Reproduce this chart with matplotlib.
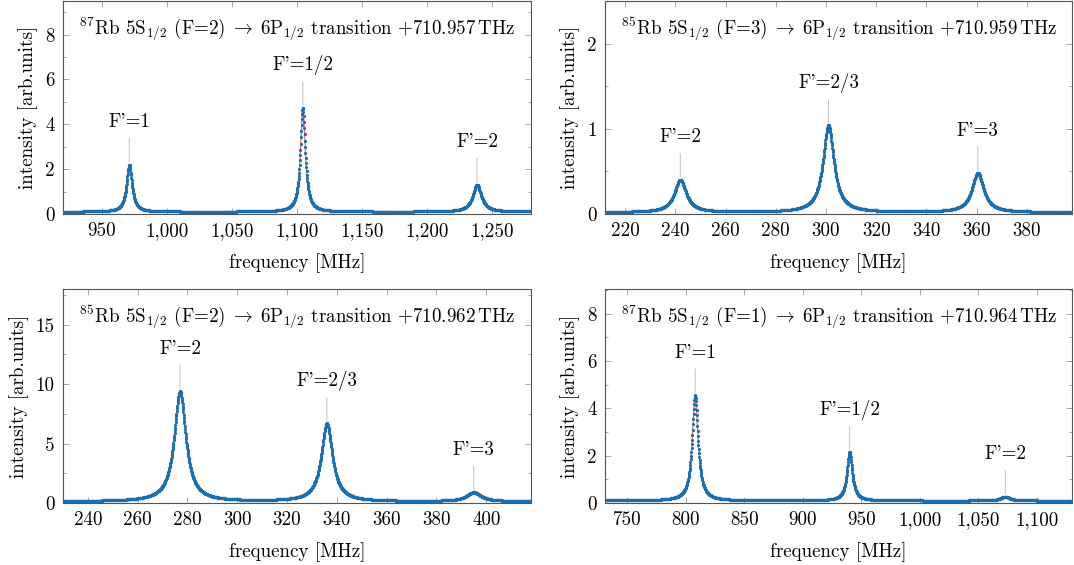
import numpy as np
import matplotlib.pyplot as plt
from matplotlib.ticker import FuncFormatter, MultipleLocator

plt.rcParams['font.family'] = 'cmr10'
plt.rcParams['mathtext.fontset'] = 'cm'
plt.rcParams['axes.formatter.use_mathtext'] = True
fs = 13.7

blue = '#1a6fb3'
red = '#e8605a'

# panel titles (isotope, lower level, offset)
titles = [r'$^{87}$Rb 5S$_{1/2}$ (F=2)$\;\rightarrow\;$6P$_{1/2}$ transition +710.957$\,$THz',
          r'$^{85}$Rb 5S$_{1/2}$ (F=3)$\;\rightarrow\;$6P$_{1/2}$ transition +710.959$\,$THz',
          r'$^{85}$Rb 5S$_{1/2}$ (F=2)$\;\rightarrow\;$6P$_{1/2}$ transition +710.962$\,$THz',
          r'$^{87}$Rb 5S$_{1/2}$ (F=1)$\;\rightarrow\;$6P$_{1/2}$ transition +710.964$\,$THz']

# peak labels, centres [MHz], heights above background, widths (FWHM) [MHz]
labels_tl = ["F'=1", "F'=1/2", "F'=2"]
centers_tl = [971, 1104.5, 1238.5]
heights_tl = [2.1, 4.65, 1.2]
fwhm_tl = [5.0, 4.5, 8.0]
base_tl = 0.1

labels_tr = ["F'=2", "F'=2/3", "F'=3"]
centers_tr = [242, 301, 360.5]
heights_tr = [0.38, 1.02, 0.46]
fwhm_tr = [5.6, 5.2, 5.6]
base_tr = 0.02

labels_bl = ["F'=2", "F'=2/3", "F'=3"]
centers_bl = [277, 336, 395]
heights_bl = [9.25, 6.55, 0.75]
fwhm_bl = [5.6, 5.4, 7.0]
base_bl = 0.13

labels_br = ["F'=1", "F'=1/2", "F'=2"]
centers_br = [808, 940, 1073]
heights_br = [4.45, 2.05, 0.17]
fwhm_br = [6.0, 5.5, 9.0]
base_br = 0.1

xlims = [(920, 1280), (212, 398), (230, 418), (731, 1130)]
ylims = [(0, 9.5), (0, 2.5), (0, 18), (0, 9.05)]
xstep = [50, 20, 20, 50]
ystep = [2, 1, 5, 2]

panels = [(labels_tl, centers_tl, heights_tl, fwhm_tl, base_tl),
          (labels_tr, centers_tr, heights_tr, fwhm_tr, base_tr),
          (labels_bl, centers_bl, heights_bl, fwhm_bl, base_bl),
          (labels_br, centers_br, heights_br, fwhm_br, base_br)]

pos = [[63/1074, 351/565, 468/1074, 213/565],
       [605/1074, 351/565, 467/1074, 213/565],
       [63/1074, 62/565, 468/1074, 214/565],
       [605/1074, 62/565, 467/1074, 214/565]]


def spectrum(f, c, h, w, b):
    y = np.full_like(f, b)
    for ci, hi, wi in zip(c, h, w):
        g = wi / 2
        y += hi * g**2 / ((f - ci)**2 + g**2)
    return y


fig = plt.figure(figsize=(10.74, 5.65), dpi=100)

for i in range(4):
    lab, c, h, w, b = panels[i]
    ax = fig.add_axes(pos[i])
    f = np.linspace(xlims[i][0], xlims[i][1], 1700)
    y = spectrum(f, c, h, w, b)
    ax.plot(f, y, color=red, lw=0.8, zorder=2)
    ax.plot(f, y, 'o', color=blue, ms=2.3, mew=0, zorder=3)

    for lb, ci, hi in zip(lab, c, h):
        ax.annotate(lb, xy=(ci, hi + b), xytext=(0, 27), textcoords='offset points',
                    ha='center', va='baseline', fontsize=fs,
                    arrowprops=dict(arrowstyle='-', color='#c0c0c0', lw=0.7,
                                    shrinkA=3, shrinkB=2))

    ax.text(0.5, 0.935, titles[i], transform=ax.transAxes, ha='center', va='top', fontsize=fs)

    ax.set_xlim(*xlims[i])
    ax.set_ylim(*ylims[i])
    ax.xaxis.set_major_locator(MultipleLocator(xstep[i]))
    ax.yaxis.set_major_locator(MultipleLocator(ystep[i]))
    ax.yaxis.set_minor_locator(MultipleLocator(ystep[i] / 2))
    ax.xaxis.set_major_formatter(FuncFormatter(lambda v, p: f'{v:,.0f}'))
    ax.yaxis.set_major_formatter(FuncFormatter(lambda v, p: f'{v:g}'))
    ax.tick_params(which='both', direction='in', top=True, right=True, color='#999999',
                   labelsize=fs, pad=6)
    ax.tick_params(which='major', length=4, width=0.6)
    ax.tick_params(which='minor', length=2.5, width=0.6)
    for s in ax.spines.values():
        s.set_color('#555555')
        s.set_linewidth(0.8)
    ax.set_xlabel('frequency [MHz]', fontsize=fs, labelpad=9)
    ax.set_ylabel('intensity [arb.units]', fontsize=fs, labelpad=5)

fig.savefig('out.png', dpi=100)
